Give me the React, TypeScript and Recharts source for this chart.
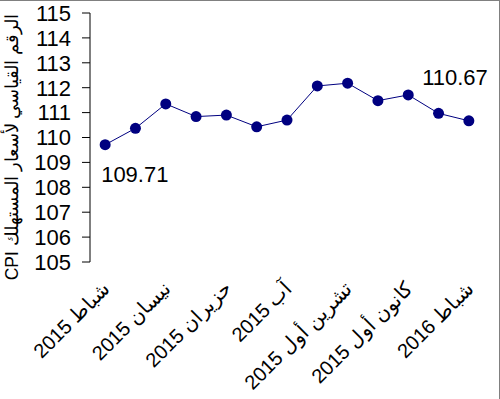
import React from "react";
import { LineChart, Line, XAxis, YAxis, LabelList } from "recharts";

const months = [
  "شباط 2015",
  "آذار 2015",
  "نيسان 2015",
  "أيار 2015",
  "حزيران 2015",
  "تموز 2015",
  "آب 2015",
  "أيلول 2015",
  "تشرين أول 2015",
  "تشرين ثاني 2015",
  "كانون أول 2015",
  "كانون ثاني 2016",
  "شباط 2016",
];
const cpi = [109.71, 110.37, 111.35, 110.84, 110.9, 110.43, 110.7, 112.07, 112.18, 111.48, 111.71, 110.97, 110.67];
const yTicks = [105, 106, 107, 108, 109, 110, 111, 112, 113, 114, 115];
const labelTicks = [0, 2, 4, 6, 8, 10, 12];
const edgeTicks = [-0.5, 0.5, 1.5, 2.5, 3.5, 4.5, 5.5, 6.5, 7.5, 8.5, 9.5, 10.5, 11.5, 12.5];

const data = months.map((m, i) => ({ idx: i, month: m, cpi: cpi[i] }));

const FONT = "'Liberation Sans', Arial, sans-serif";
const NAVY = "#000080";

const MonthTick = (props: any) => {
  const { x, y, payload } = props;
  const ax = x + 6;
  const ay = y + 20;
  return (
    <text
      x={ax}
      y={ay}
      transform={`rotate(-45, ${ax}, ${ay})`}
      textAnchor="end"
      fontFamily={FONT}
      fontSize={20}
      fill="#000"
    >
      {months[payload.value]}
    </text>
  );
};

const EndLabel = (props: any) => {
  const { x, y, index, value } = props;
  if (index === 0) {
    return (
      <text x={x - 4} y={y + 37} fontFamily={FONT} fontSize={22} fill="#000">
        {value.toFixed(2)}
      </text>
    );
  }
  if (index === cpi.length - 1) {
    return (
      <text x={x + 19} y={y - 36} textAnchor="end" fontFamily={FONT} fontSize={22} fill="#000">
        {value.toFixed(2)}
      </text>
    );
  }
  return null;
};

export default function App() {
  return (
    <div style={{ position: "absolute", left: 0, top: 0, width: 500, height: 399, background: "#fff" }}>
      <LineChart width={500} height={399} data={data} margin={{ top: 13, right: 16, left: 0, bottom: 0 }}>
        <XAxis
          xAxisId="edges"
          dataKey="idx"
          type="number"
          domain={[-0.5, 12.5]}
          ticks={edgeTicks}
          height={0}
          tickSize={7}
          tick={() => <g />}
          stroke="#000"
          axisLine={{ stroke: "#000" }}
          tickLine={{ stroke: "#000" }}
        />
        <XAxis
          xAxisId="labels"
          dataKey="idx"
          type="number"
          domain={[-0.5, 12.5]}
          ticks={labelTicks}
          height={137}
          axisLine={false}
          tickLine={false}
          interval={0}
          tick={<MonthTick />}
        />
        <YAxis
          domain={[105, 115]}
          ticks={yTicks}
          width={90}
          interval={0}
          tickSize={8}
          tickMargin={11}
          stroke="#000"
          tick={{ fontFamily: FONT, fontSize: 22, fill: "#000" }}
          label={{
            content: () => (
              <text
                x={18}
                y={147}
                transform="rotate(-90, 18, 147)"
                textAnchor="middle"
                fontFamily={FONT}
                fontSize={17.5}
                fill="#000"
              >
                CPI الرقم القياسي لأسعار المستهلك
              </text>
            ),
          }}
        />
        <Line
          xAxisId="labels"
          dataKey="cpi"
          stroke={NAVY}
          strokeWidth={1}
          dot={{ r: 5.5, fill: NAVY, stroke: NAVY, strokeWidth: 0 }}
          isAnimationActive={false}
        >
          <LabelList dataKey="cpi" content={<EndLabel />} />
        </Line>
      </LineChart>
      <div
        style={{
          position: "absolute",
          inset: 0,
          borderTop: "1px solid #808080",
          borderRight: "1px solid #808080",
          pointerEvents: "none",
        }}
      />
    </div>
  );
}
